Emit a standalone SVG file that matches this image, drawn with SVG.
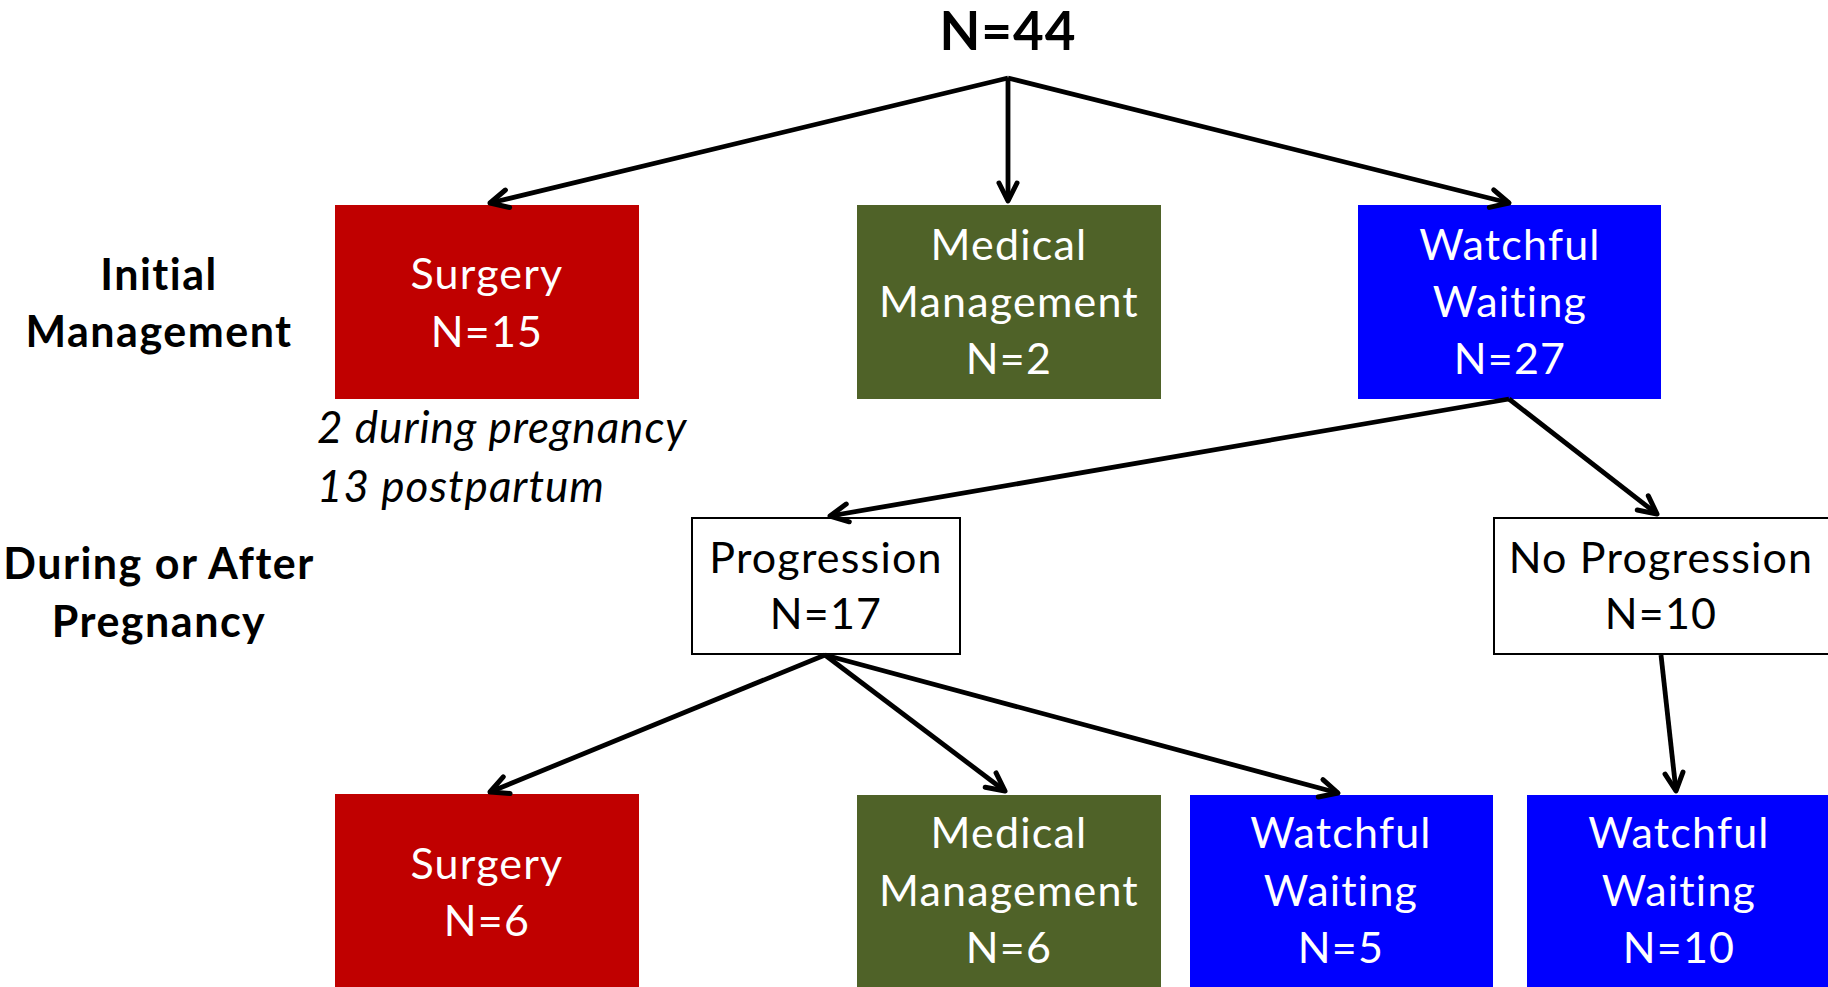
<svg xmlns="http://www.w3.org/2000/svg" width="1828" height="987" viewBox="0 0 1828 987">
<defs>
<style>
.t{font-family:Lato,"Open Sans","Liberation Sans",sans-serif;font-size:43px;text-anchor:middle;letter-spacing:1.2px}
.w{fill:#ffffff}
.k{fill:#000000}
.b{font-weight:bold;letter-spacing:1.5px}
.i{font-style:italic;text-anchor:start;font-size:44px;letter-spacing:1px}
.red{fill:#c00000}
.grn{fill:#4f6228}
.blu{fill:#0000ff}
.wht{fill:#ffffff;stroke:#000000;stroke-width:2}
.c line{stroke:#000;stroke-width:4.8;marker-end:url(#ah)}
</style>
<marker id="ah" markerUnits="userSpaceOnUse" markerWidth="40" markerHeight="40" refX="0" refY="0" viewBox="-30 -20 40 40" orient="auto" overflow="visible">
<path d="M-18,-9 L0,0 L-18,9" fill="none" stroke="#000" stroke-width="5" stroke-linecap="round" stroke-linejoin="round"/>
</marker>
</defs>
<rect width="1828" height="987" fill="#ffffff"/>

<g id="root"><text class="t k b" x="1008" y="50" style="font-size:53px;letter-spacing:1px">N=44</text></g>

<g id="label-initial">
<text class="t k b" x="159" y="290">Initial</text>
<text class="t k b" x="159" y="347">Management</text>
</g>
<g id="label-during">
<text class="t k b" x="159" y="579">During or After</text>
<text class="t k b" x="159" y="637">Pregnancy</text>
</g>

<g id="surgery1">
<rect class="red" x="335" y="205" width="304" height="194"/>
<text class="t w" x="487" y="289">Surgery</text>
<text class="t w" x="487" y="347">N=15</text>
</g>
<g id="surgery1-note">
<text class="t k i" x="317" y="443">2 during pregnancy</text>
<text class="t k i" x="317" y="502">13 postpartum</text>
</g>
<g id="medical1">
<rect class="grn" x="857" y="205" width="304" height="194"/>
<text class="t w" x="1009" y="260">Medical</text>
<text class="t w" x="1009" y="317">Management</text>
<text class="t w" x="1009" y="374">N=2</text>
</g>
<g id="watchful1">
<rect class="blu" x="1358" y="205" width="303" height="194"/>
<text class="t w" x="1510" y="260">Watchful</text>
<text class="t w" x="1510" y="317">Waiting</text>
<text class="t w" x="1510" y="374">N=27</text>
</g>

<g id="progression">
<rect class="wht" x="692" y="518" width="268" height="136"/>
<text class="t k" x="826" y="573">Progression</text>
<text class="t k" x="826" y="629">N=17</text>
</g>
<g id="noprogression">
<rect class="wht" x="1494" y="518" width="360" height="136"/>
<text class="t k" x="1661" y="573">No Progression</text>
<text class="t k" x="1661" y="629">N=10</text>
</g>

<g id="surgery2">
<rect class="red" x="335" y="794" width="304" height="200"/>
<text class="t w" x="487" y="879">Surgery</text>
<text class="t w" x="487" y="936">N=6</text>
</g>
<g id="medical2">
<rect class="grn" x="857" y="795" width="304" height="200"/>
<text class="t w" x="1009" y="848">Medical</text>
<text class="t w" x="1009" y="906">Management</text>
<text class="t w" x="1009" y="963">N=6</text>
</g>
<g id="watchful2">
<rect class="blu" x="1190" y="795" width="303" height="200"/>
<text class="t w" x="1341" y="848">Watchful</text>
<text class="t w" x="1341" y="906">Waiting</text>
<text class="t w" x="1341" y="963">N=5</text>
</g>
<g id="watchful3">
<rect class="blu" x="1527" y="795" width="310" height="200"/>
<text class="t w" x="1679" y="848">Watchful</text>
<text class="t w" x="1679" y="906">Waiting</text>
<text class="t w" x="1679" y="963">N=10</text>
</g>

<g id="connectors" class="c">
<line x1="1008" y1="78" x2="490" y2="203"/>
<line x1="1008" y1="78" x2="1008" y2="201"/>
<line x1="1008" y1="78" x2="1509" y2="203"/>
<line x1="1509" y1="399" x2="830" y2="516"/>
<line x1="1509" y1="399" x2="1657" y2="514"/>
<line x1="825" y1="655" x2="490" y2="792"/>
<line x1="825" y1="655" x2="1005" y2="791"/>
<line x1="825" y1="655" x2="1338" y2="793"/>
<line x1="1661" y1="655" x2="1676" y2="791"/>
</g>
</svg>
